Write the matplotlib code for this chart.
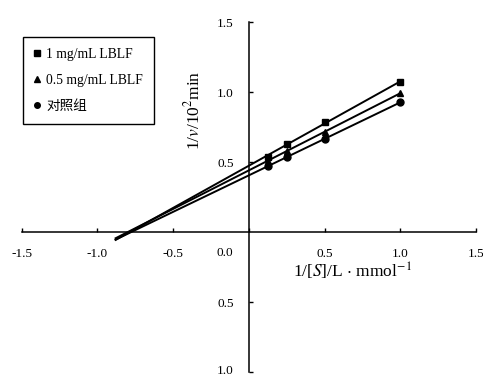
import matplotlib
matplotlib.use("Agg")
import matplotlib.pyplot as plt
import matplotlib.transforms as mtransforms
import numpy as np

plt.rcParams['font.family'] = ['Liberation Serif', 'Noto Sans CJK SC']
plt.rcParams['mathtext.fontset'] = 'stix'

# 1/[S] values
x = [0.125, 0.25, 0.5, 1.0]
# 1/v values for each group
y_1mg = [0.541, 0.632, 0.791, 1.073]
y_05mg = [0.51, 0.584, 0.72, 0.994]
y_ctrl = [0.475, 0.537, 0.668, 0.93]

labels = ['1 mg/mL LBLF', '0.5 mg/mL LBLF', '对照组']
markers = ['s', '^', 'o']

xticks = [-1.5, -1.0, -0.5, 0.0, 0.5, 1.0, 1.5]
xticklabels = ['-1.5', '-1.0', '-0.5', '', '0.5', '1.0', '1.5']
yticks = [-1.0, -0.5, 0.5, 1.0, 1.5]
yticklabels = ['1.0', '0.5', '0.5', '1.0', '1.5']

fig = plt.figure(figsize=(4.83, 3.78), dpi=100)
ax = fig.add_axes([0.045, 0.0146, 0.9405, 0.9259])

#Fit lines and extend them to negative 1/[S]
x_line = np.array([-0.88, 1.0])
for ys, m, lab in zip([y_1mg, y_05mg, y_ctrl], markers, labels):
    k, b = np.polyfit(x, ys, 1)
    ax.plot(x_line, k * x_line + b, color='black', lw=1.4)
    ax.plot(x, ys, ls='none', marker=m, ms=5, color='black', label=lab)

ax.set_xlim(-1.5, 1.5)
ax.set_ylim(-1.0, 1.5)

#Axes cross at origin
for side in ['top', 'right']:
    ax.spines[side].set_visible(False)
ax.spines['left'].set_position(('data', 0))
ax.spines['bottom'].set_position(('data', 0))
ax.spines['left'].set_linewidth(1.1)
ax.spines['bottom'].set_linewidth(1.1)

ax.set_xticks(xticks)
ax.set_xticklabels(xticklabels)
ax.set_yticks(yticks)
ax.set_yticklabels(yticklabels)
ax.tick_params(axis='x', direction='in', length=3, width=1, pad=11, labelsize=9.5)
ax.tick_params(axis='y', direction='in', length=3, width=1, pad=11, labelsize=9.5)

#Nudge the lowest y label up so it stays inside the canvas
low = ax.get_yticklabels()[0]
low.set_transform(low.get_transform() + mtransforms.ScaledTranslation(0, 3 / 100, fig.dpi_scale_trans))

ax.annotate('0.0', xy=(0, 0), xytext=(-17, -15), textcoords='offset points',
            ha='center', va='center', fontsize=9.5)

fig.text(193 / 483, 1 - 110 / 378, r'1/$v$/10$^2$min', rotation=90,
         ha='center', va='center', fontsize=12.5)
fig.text(352 / 483, 1 - 271 / 378, r'1/[$S$]/L $\cdot$ mmol$^{-1}$',
         ha='center', va='center', fontsize=12.5)

leg = ax.legend(loc='upper left', bbox_to_anchor=(23 / 483, 1 - 37 / 378),
                bbox_transform=fig.transFigure, borderaxespad=0,
                fontsize=9.8, handlelength=0.5, handletextpad=0.4,
                labelspacing=0.95, borderpad=0.8, fancybox=False,
                framealpha=1, edgecolor='black', markerscale=0.8)
leg.get_frame().set_linewidth(1.0)

fig.savefig('out.png', dpi=100)
